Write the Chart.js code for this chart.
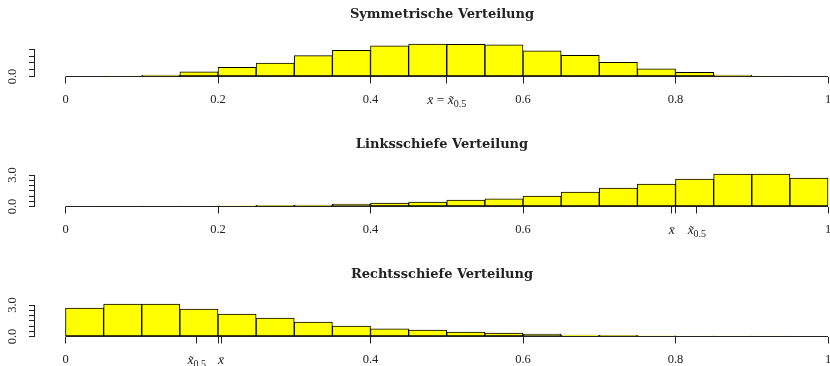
<!DOCTYPE html>
<html>
<head>
<meta charset="utf-8">
<script src="https://cdn.jsdelivr.net/npm/chart.js@4.4.1/dist/chart.umd.min.js"></script>
<style>
  html, body { margin: 0; padding: 0; background: #fff; }
  #wrap { position: relative; width: 830px; height: 366px; overflow: hidden; }
  #wrap canvas { position: absolute; left: 0; }
</style>
</head>
<body>
<div id="wrap">
  <canvas id="c1" width="884" height="130" style="top:0px"></canvas>
  <canvas id="c2" width="884" height="130" style="top:130px"></canvas>
  <canvas id="c3" width="884" height="130" style="top:260px"></canvas>
</div>
<script>
// Klassengrenzen der Histogramme
const breaks = [0, 0.05, 0.1, 0.15, 0.2, 0.25, 0.3, 0.35, 0.4, 0.45, 0.5,
  0.55, 0.6, 0.65, 0.7, 0.75, 0.8, 0.85, 0.9, 0.95, 1];

// Dichten je Klasse
const symmetrisch = [0, 0.03, 0.11, 0.35, 0.68, 0.98, 1.53, 1.93, 2.26, 2.39,
  2.37, 2.32, 1.88, 1.56, 1.04, 0.57, 0.31, 0.11, 0.03, 0];
const linksschief = [0, 0.02, 0.03, 0.04, 0.06, 0.10, 0.14, 0.23, 0.32, 0.43,
  0.60, 0.73, 0.99, 1.37, 1.75, 2.13, 2.61, 3.09, 3.09, 2.70];
const rechtsschief = [2.70, 3.09, 3.09, 2.61, 2.13, 1.75, 1.37, 0.99, 0.73, 0.61,
  0.42, 0.32, 0.23, 0.13, 0.10, 0.06, 0.04, 0.03, 0.02, 0];

const titel = ['Symmetrische Verteilung', 'Linksschiefe Verteilung', 'Rechtsschiefe Verteilung'];
const mittelwerte = [0.5, 0.795, 0.204];
const mediane = [0.5, 0.828, 0.172];

const xTicks = [0, 0.2, 0.4, 0.6, 0.8, 1];
const xTickLabels = ['0', '0.2', '0.4', '0.6', '0.8', '1'];
const xVersteckt = [[], ['0.8'], ['0.2']];

const yTicksSym = [0, 0.5, 1, 1.5, 2];
const yLabelsSym = ['0.0', '', '', '', ''];
const yTicksSchief = [0, 0.5, 1, 1.5, 2, 2.5, 3];
const yLabelsSchief = ['0.0', '', '', '', '', '', '3.0'];

const serif = '"Liberation Serif", "DejaVu Serif", serif';
const textFarbe = '#222';

function formel(ctx, teile, cx, baseY) {
  let breite = 0;
  teile.forEach(t => { ctx.font = t.font; breite += ctx.measureText(t.text).width; });
  let x = cx - breite / 2;
  ctx.textAlign = 'left';
  ctx.textBaseline = 'alphabetic';
  teile.forEach(t => {
    ctx.font = t.font;
    ctx.fillText(t.text, x, baseY + (t.dy || 0));
    x += ctx.measureText(t.text).width;
  });
}

function achsenPlugin(k, yTicks) {
  return {
    id: 'achsen' + k,
    afterDraw(chart) {
      const { ctx, scales: { x, y } } = chart;
      const y0 = y.getPixelForValue(0);
      ctx.save();
      ctx.strokeStyle = textFarbe;
      ctx.lineWidth = 1;
      ctx.beginPath();
      ctx.moveTo(x.getPixelForValue(0), y0);
      ctx.lineTo(x.getPixelForValue(1), y0);
      const yx = Math.floor(chart.chartArea.left) - 0.5;
      ctx.moveTo(yx, y0);
      ctx.lineTo(yx, y.getPixelForValue(yTicks[yTicks.length - 1]));
      ctx.stroke();

      ctx.fillStyle = textFarbe;
      const normal = '13.5px ' + serif;
      const kursiv = 'italic 13.5px ' + serif;
      const klein = '10px ' + serif;
      const baseY = y0 + 27.5;
      const xq = { text: 'x\u0304', font: kursiv };
      const xt = { text: 'x\u0303', font: kursiv };
      const sub = { text: '0.5', font: klein, dy: 2.5 };
      if (mittelwerte[k] === mediane[k]) {
        formel(ctx, [xq, { text: ' = ', font: normal }, xt, sub], x.getPixelForValue(mittelwerte[k]), baseY);
      } else {
        formel(ctx, [xq], x.getPixelForValue(mittelwerte[k]), baseY);
        formel(ctx, [xt, sub], x.getPixelForValue(mediane[k]), baseY);
      }
      ctx.restore();
    }
  };
}

function zeichne(id, k, werte, yTicks, yLabels, yMax) {
  const mitten = werte.map((_, i) => (breaks[i] + breaks[i + 1]) / 2);
  const alleX = [...new Set(xTicks.concat([mittelwerte[k], mediane[k]]))].sort((a, b) => a - b);
  new Chart(document.getElementById(id), {
    type: 'bar',
    data: {
      datasets: [{
        data: werte.map((v, i) => ({ x: mitten[i], y: v })),
        xAxisID: 'xb',
        yAxisID: 'y',
        backgroundColor: '#ffff00',
        borderColor: '#000',
        borderWidth: 1,
        borderSkipped: false,
        barPercentage: 1,
        categoryPercentage: 1
      }]
    },
    options: {
      responsive: false,
      animation: false,
      devicePixelRatio: 1,
      layout: { padding: 0 },
      plugins: {
        legend: { display: false },
        tooltip: { enabled: false },
        title: {
          display: true,
          text: titel[k],
          color: textFarbe,
          font: { family: '"DejaVu Serif", serif', weight: 'bold', size: 13 },
          padding: { top: 7.2, bottom: 19.7 }
        }
      },
      scales: {
        xb: {
          type: 'linear',
          display: false,
          offset: false,
          grid: { offset: false },
          min: -0.04,
          max: 1.0734,
          afterBuildTicks: s => { s.ticks = breaks.map(v => ({ value: v })); }
        },
        x: {
          type: 'linear',
          position: 'bottom',
          offset: false,
          min: -0.04,
          max: 1.0734,
          afterFit: s => { s.height = 53.5; },
          afterBuildTicks: s => { s.ticks = alleX.map(v => ({ value: v })); },
          border: { display: false },
          grid: { offset: false, drawOnChartArea: false, drawTicks: true, tickLength: 7, color: textFarbe, lineWidth: 1 },
          ticks: {
            autoSkip: false,
            maxRotation: 0,
            padding: 9,
            color: textFarbe,
            font: { family: serif, size: 12.5 },
            callback: v => {
              const i = xTicks.findIndex(t => Math.abs(t - v) < 1e-9);
              if (i < 0) return '';
              const lab = xTickLabels[i];
              return xVersteckt[k].includes(lab) ? '' : lab;
            }
          }
        },
        y: {
          type: 'linear',
          position: 'left',
          min: 0,
          max: yMax,
          afterFit: s => { s.width = 35; },
          afterBuildTicks: s => { s.ticks = yTicks.map(v => ({ value: v })); },
          border: { display: false },
          grid: { offset: false, drawOnChartArea: false, drawTicks: true, tickLength: 6, color: textFarbe, lineWidth: 1 },
          ticks: {
            autoSkip: false,
            minRotation: 90,
            maxRotation: 90,
            crossAlign: 'center',
            padding: 8,
            color: textFarbe,
            font: { family: serif, size: 12.5 },
            callback: (v, i) => yLabels[i]
          }
        }
      }
    },
    plugins: [achsenPlugin(k, yTicks)]
  });
}

zeichne('c1', 0, symmetrisch, yTicksSym, yLabelsSym, 2.5);
zeichne('c2', 1, linksschief, yTicksSchief, yLabelsSchief, 3.24);
zeichne('c3', 2, rechtsschief, yTicksSchief, yLabelsSchief, 3.24);
</script>
</body>
</html>
